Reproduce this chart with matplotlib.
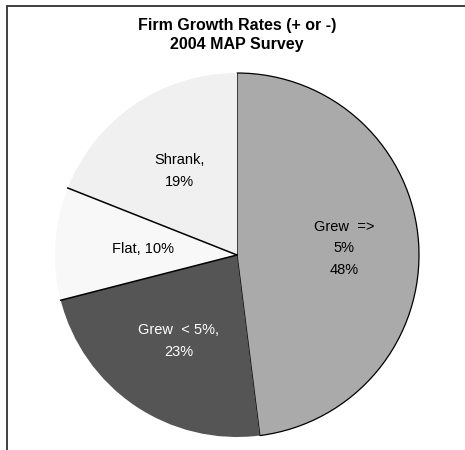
import matplotlib.pyplot as plt
import numpy as np
from matplotlib.lines import Line2D

plt.rcParams['font.family'] = ['Liberation Sans', 'DejaVu Sans']

# Data
categories = ['Grew => 5%', 'Grew < 5%', 'Flat', 'Shrank']
values = [48, 23, 10, 19]
labels = ['Grew  =>\n5%\n48%', 'Grew  < 5%,\n23%', 'Flat, 10%', 'Shrank,\n19%']
colors = ['#aaaaaa', '#555555', '#f8f8f8', '#f0f0f0']
text_colors = ['black', 'white', 'black', 'black']
label_radius = [0.59, 0.57, 0.52, 0.56]

fig = plt.figure(figsize=(4.65, 4.5), dpi=100)
ax = fig.add_axes([55 / 465, 13 / 450, 364 / 465, 364 / 450])

wedges, _ = ax.pie(values, colors=colors, startangle=90, counterclock=False,
                   wedgeprops=dict(linewidth=0))
ax.set_xlim(-1, 1)
ax.set_ylim(-1, 1)
ax.set_aspect('equal')
ax.axis('off')

# outline of the big wedge
wedges[0].set_edgecolor('black')
wedges[0].set_linewidth(0.9)

# separator lines between the other wedges
for w in wedges[1:3]:
    a = np.deg2rad(w.theta1)
    ax.plot([0, np.cos(a)], [0, np.sin(a)], color='black', linewidth=1.1)

# labels placed inside the wedges
for w, lab, tc, r in zip(wedges, labels, text_colors, label_radius):
    mid = np.deg2rad((w.theta1 + w.theta2) / 2)
    ax.text(r * np.cos(mid), r * np.sin(mid), lab, ha='center', va='center',
            color=tc, fontsize=10.5, linespacing=1.7)

# title
fig.text(0.51, 1 - 35 / 450, 'Firm Growth Rates (+ or -)\n2004 MAP Survey',
         ha='center', va='center', fontsize=11.5, fontweight='bold', linespacing=1.3)

# frame (top and left edges)
fig.add_artist(Line2D([7 / 465, 1], [1 - 6 / 450, 1 - 6 / 450], color='#404040',
                      linewidth=1.4, transform=fig.transFigure))
fig.add_artist(Line2D([7 / 465, 7 / 465], [0, 1 - 6 / 450], color='#404040',
                      linewidth=1.4, transform=fig.transFigure))

fig.savefig('out.png', dpi=100)
